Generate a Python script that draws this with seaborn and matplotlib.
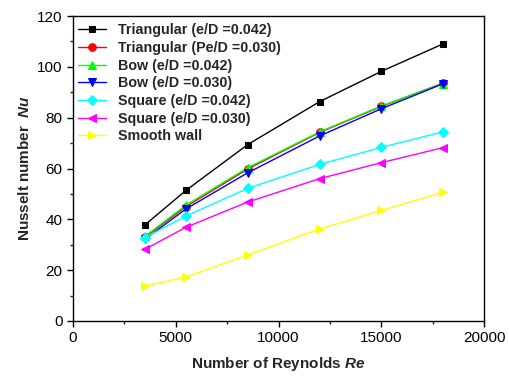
import matplotlib
matplotlib.use("Agg")
import matplotlib.pyplot as plt
from matplotlib.ticker import MultipleLocator
import seaborn as sns
import pandas as pd

# Reynolds numbers tested
reynolds = [3500, 5500, 8500, 12000, 15000, 18000]

# Nusselt number per rib geometry
nu_tri_042 = [37.8, 51.4, 69.4, 86.3, 98.2, 109.0]
nu_tri_030 = [33.0, 45.0, 59.8, 74.2, 84.4, 93.6]
nu_bow_042 = [33.3, 45.6, 60.3, 74.4, 84.6, 93.4]
nu_bow_030 = [32.2, 44.1, 58.3, 72.8, 83.5, 93.3]
nu_sq_042 = [32.8, 41.3, 52.2, 61.6, 68.3, 74.4]
nu_sq_030 = [28.2, 36.9, 46.8, 56.0, 62.3, 68.2]
nu_smooth = [13.8, 17.3, 26.0, 36.2, 43.5, 50.6]

labels = [
    "Triangular (e/D =0.042)",
    "Triangular (Pe/D =0.030)",
    "Bow (e/D =0.042)",
    "Bow (e/D =0.030)",
    "Square (e/D =0.042)",
    "Square (e/D =0.030)",
    "Smooth wall",
]
series = [nu_tri_042, nu_tri_030, nu_bow_042, nu_bow_030, nu_sq_042, nu_sq_030, nu_smooth]
colors = ["#000000", "#ff0000", "#00ff00", "#0000ff", "#00ffff", "#ff00ff", "#ffff00"]
markers = ["s", "o", "^", "v", "D", "<", ">"]
msizes = [5, 5.5, 5.5, 5.5, 5, 5.5, 5.5]

df = pd.concat(
    [pd.DataFrame({"Re": reynolds, "Nu": vals, "case": lab}) for lab, vals in zip(labels, series)],
    ignore_index=True,
)

sns.set_theme(style="ticks")
plt.rcParams["font.family"] = ["Liberation Sans", "DejaVu Sans"]
plt.rcParams["mathtext.fontset"] = "custom"
plt.rcParams["mathtext.rm"] = "Liberation Sans"
plt.rcParams["mathtext.it"] = "Liberation Sans:italic"
plt.rcParams["mathtext.bf"] = "Liberation Sans:bold"
plt.rcParams["mathtext.bfit"] = "Liberation Sans:italic:bold"

fig = plt.figure(figsize=(5.10, 3.76), dpi=100)
ax = fig.add_axes([73 / 510, 1 - 321 / 376, (484 - 73) / 510, (321 - 16) / 376])

for lab, col, mk, ms in zip(labels, colors, markers, msizes):
    sns.lineplot(
        data=df[df["case"] == lab], x="Re", y="Nu", ax=ax, color=col,
        marker=mk, markersize=ms, markeredgecolor=col, linewidth=1.0, label=lab,
    )

ax.set_xlim(0, 20000)
ax.set_ylim(0, 120)
ax.xaxis.set_major_locator(MultipleLocator(5000))
ax.xaxis.set_minor_locator(MultipleLocator(2500))
ax.yaxis.set_major_locator(MultipleLocator(20))
ax.yaxis.set_minor_locator(MultipleLocator(10))
ax.tick_params(which="major", direction="out", length=4, width=1, labelsize=11, colors="#000000")
ax.tick_params(which="minor", direction="out", length=2.5, width=1)
for sp in ax.spines.values():
    sp.set_linewidth(1.0)
    sp.set_color("#000000")

ax.set_xlabel("Number of Reynolds $\\mathbfit{Re}$", fontsize=11, fontweight="bold", labelpad=7)
ax.set_ylabel("Nusselt number  $\\mathbfit{Nu}$", fontsize=11, fontweight="bold", labelpad=4)

leg = ax.legend(
    loc="upper left", bbox_to_anchor=(-0.005, 1.0), frameon=False,
    prop={"weight": "bold", "size": 10.3},
    handlelength=1.95, borderaxespad=0.0, borderpad=0.5, labelspacing=0.26, handletextpad=0.85,
)

fig.savefig("out.png", dpi=100)
